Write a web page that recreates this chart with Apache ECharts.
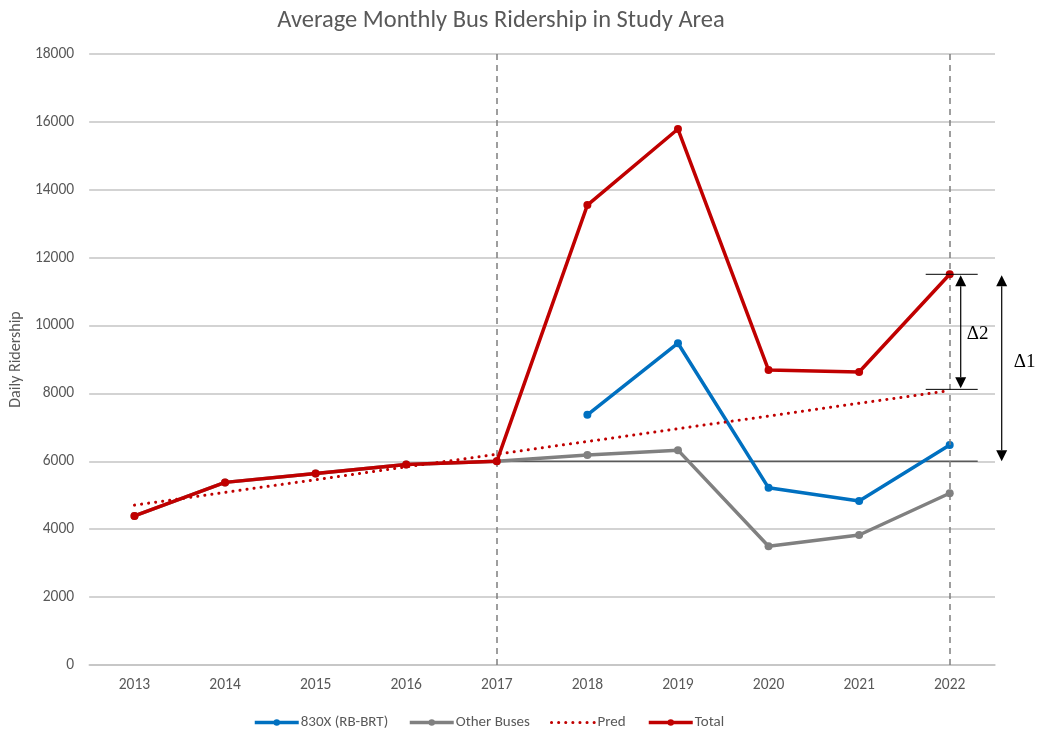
<!DOCTYPE html>
<html>
<head>
<meta charset="utf-8">
<script src="https://cdn.jsdelivr.net/npm/echarts@6/dist/echarts.min.js"></script>
<style>
  html, body { margin: 0; padding: 0; background: #ffffff; }
  #chart { width: 1037px; height: 733px; }
</style>
</head>
<body>
<div id="chart"></div>
<script>
// Years on the category axis
const years = ['2013', '2014', '2015', '2016', '2017', '2018', '2019', '2020', '2021', '2022'];

// Average daily ridership per series
const brt830x = [null, null, null, null, null, 7370, 9480, 5220, 4830, 6480];
const otherBuses = [4390, 5380, 5640, 5910, 6000, 6190, 6330, 3500, 3830, 5060];
const pred = [4710, 5085, 5460, 5835, 6210, 6585, 6960, 7335, 7710, 8085];
const total = [4390, 5380, 5640, 5910, 6000, 13550, 15790, 8690, 8630, 11510];

// Y axis tick values
const yTicks = [0, 2000, 4000, 6000, 8000, 10000, 12000, 14000, 16000, 18000];

// Reference levels used by the Δ annotations
const baseline = 6000;        // ridership before the BRT year
const baselineFrom = '2017';
const markerYears = ['2017', '2022'];
const predTickLevel = 8120;   // level of the lower Δ2 tick

const font = 'Calibri, Carlito, "Open Sans", "Noto Sans", sans-serif';
const textGrey = '#595959';

const chart = echarts.init(document.getElementById('chart'), null, { renderer: 'canvas' });

// One legend block per series so each entry sits at its own x position
const legendEntries = [
  { name: '830X (RB-BRT)', left: 248 },
  { name: 'Other Buses', left: 403 },
  { name: 'Pred', left: 545, hideSymbol: true },
  { name: 'Total', left: 642 }
];

const legends = legendEntries.map(e => ({
  left: e.left,
  top: 710,
  itemWidth: 44,
  itemHeight: 8,
  lineStyle: { width: 'inherit' },
  textStyle: { fontFamily: font, fontSize: 15, color: textGrey, padding: [0, 0, 0, -3] },
  data: [e.hideSymbol ? { name: e.name, itemStyle: { opacity: 0 } } : { name: e.name }]
}));

const option = {
  animation: false,
  backgroundColor: '#ffffff',
  title: {
    text: 'Average Monthly Bus Ridership in Study Area',
    left: 496,
    textAlign: 'center',
    top: 3,
    textStyle: { fontFamily: font, fontSize: 24.5, fontWeight: 'normal', color: textGrey }
  },
  grid: { left: 87, right: 42, top: 54, bottom: 68 },
  legend: legends,
  xAxis: {
    type: 'category',
    data: years,
    boundaryGap: true,
    axisLine: { lineStyle: { color: '#c4c4c4', width: 1.5 } },
    axisTick: { show: false },
    axisLabel: { fontFamily: font, fontSize: 15.5, color: textGrey, margin: 12 }
  },
  yAxis: {
    type: 'value',
    min: yTicks[0],
    max: yTicks[yTicks.length - 1],
    interval: yTicks[1] - yTicks[0],
    name: 'Daily Ridership',
    nameLocation: 'middle',
    nameGap: 62,
    nameTextStyle: { fontFamily: font, fontSize: 16, color: textGrey },
    axisLine: { show: false },
    axisTick: { show: false },
    axisLabel: { fontFamily: font, fontSize: 15.5, color: textGrey, margin: 15, formatter: v => String(v) },
    splitLine: { lineStyle: { color: '#c4c4c4', width: 1.5 } }
  },
  series: [
    {
      name: '830X (RB-BRT)',
      type: 'line',
      data: brt830x,
      color: '#0070C0',
      lineStyle: { width: 3.5, color: '#0070C0' },
      symbol: 'circle',
      symbolSize: 8,
      itemStyle: { color: '#0070C0' },
      connectNulls: false,
      z: 3
    },
    {
      name: 'Other Buses',
      type: 'line',
      data: otherBuses,
      color: '#808080',
      lineStyle: { width: 3.5, color: '#808080' },
      symbol: 'circle',
      symbolSize: 8,
      itemStyle: { color: '#808080' },
      z: 2,
      markLine: {
        silent: true,
        symbol: 'none',
        label: { show: false },
        lineStyle: { color: '#7f7f7f', type: [6, 5], width: 1.5 },
        data: markerYears.map(y => ({ xAxis: y }))
      }
    },
    {
      name: 'Pred',
      type: 'line',
      data: pred,
      color: '#C00000',
      lineStyle: { width: 3, color: '#C00000', type: [0.1, 7], cap: 'round' },
      symbol: 'none',
      itemStyle: { color: '#C00000' },
      z: 4
    },
    {
      name: 'Total',
      type: 'line',
      data: total,
      color: '#C00000',
      lineStyle: { width: 3.5, color: '#C00000' },
      symbol: 'circle',
      symbolSize: 8,
      itemStyle: { color: '#C00000' },
      z: 5
    }
  ]
};

chart.setOption(option);

// Annotation overlay: baseline from the BRT year, Δ brackets and arrows
function px(cat, val) {
  return chart.convertToPixel({ xAxisIndex: 0, yAxisIndex: 0 }, [cat, val]);
}

const lastYear = years[years.length - 1];
const pBase0 = px(baselineFrom, baseline);
const pTop = px(lastYear, total[total.length - 1]);
const pPred = px(lastYear, predTickLevel);
const pBase = px(lastYear, baseline);

const xEnd = pTop[0];
const tickL = xEnd - 24, tickR = xEnd + 28;
const a2x = xEnd + 11, a1x = xEnd + 52;

function arrow(x, y1, y2) {
  const h = 11, w = 5.5;
  return [
    { type: 'line', shape: { x1: x, y1: y1 + h, x2: x, y2: y2 - h }, style: { stroke: '#000', lineWidth: 1.2 }, z: 20 },
    { type: 'polygon', shape: { points: [[x, y1], [x - w, y1 + h], [x + w, y1 + h]] }, style: { fill: '#000' }, z: 20 },
    { type: 'polygon', shape: { points: [[x, y2], [x - w, y2 - h], [x + w, y2 - h]] }, style: { fill: '#000' }, z: 20 }
  ];
}

const graphics = [
  { type: 'line', shape: { x1: pBase0[0], y1: pBase0[1], x2: tickR, y2: pBase0[1] }, style: { stroke: '#595959', lineWidth: 1.5 }, z: 1 },
  { type: 'line', shape: { x1: tickL, y1: pTop[1], x2: tickR, y2: pTop[1] }, style: { stroke: '#000', lineWidth: 1 }, z: 20 },
  { type: 'line', shape: { x1: tickL, y1: pPred[1], x2: tickR, y2: pPred[1] }, style: { stroke: '#000', lineWidth: 1 }, z: 20 },
  ...arrow(a2x, pTop[1] + 1, pPred[1] - 1),
  ...arrow(a1x, pTop[1] + 1, pBase[1]),
  { type: 'text', x: a2x + 6, y: (pTop[1] + pPred[1]) / 2 + 2, style: { text: 'Δ2', font: '19px "Liberation Serif", "DejaVu Serif", serif', fill: '#000', textVerticalAlign: 'middle' }, z: 20 },
  { type: 'text', x: a1x + 12, y: (pTop[1] + pBase[1]) / 2 - 6, style: { text: 'Δ1', font: '19px "Liberation Serif", "DejaVu Serif", serif', fill: '#000', textVerticalAlign: 'middle' }, z: 20 }
];

chart.setOption({ graphic: graphics });
</script>
</body>
</html>
